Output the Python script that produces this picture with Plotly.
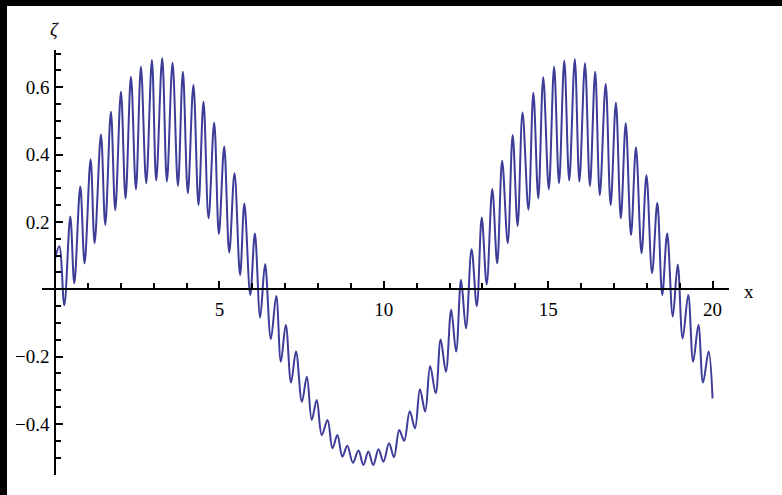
import plotly.graph_objects as go

# ---- data (local extrema of the curve) ----
x_vals = [0.00, 0.13, 0.283, 0.465, 0.587, 0.769, 0.90, 1.083, 1.205, 1.398, 1.529, 1.70, 1.833,
          2.006, 2.146, 2.31, 2.462, 2.614, 2.775, 2.948, 3.079, 3.261, 3.404, 3.575, 3.74, 3.89,
          4.04, 4.21, 4.365, 4.517, 4.67, 4.842, 4.985, 5.146, 5.30, 5.46, 5.63, 5.76, 5.94, 6.08,
          6.24, 6.39, 6.565, 6.73, 6.87, 7.02, 7.18, 7.33, 7.51, 7.66, 7.81, 7.96, 8.115, 8.29,
          8.44, 8.59, 8.74, 8.89, 9.06, 9.23, 9.38, 9.53, 9.68, 9.84, 9.99, 10.16, 10.31, 10.47,
          10.62, 10.79, 10.95, 11.10, 11.26, 11.41, 11.58, 11.73, 11.89, 12.05, 12.20, 12.35,
          12.50, 12.67, 12.83, 12.98, 13.13, 13.30, 13.45, 13.60, 13.77, 13.92, 14.07, 14.22,
          14.40, 14.55, 14.70, 14.85, 15.02, 15.18, 15.33, 15.49, 15.64, 15.81, 15.95, 16.12,
          16.27, 16.43, 16.57, 16.75, 16.90, 17.06, 17.21, 17.36, 17.52, 17.67, 17.84, 17.99,
          18.16, 18.32, 18.47, 18.62, 18.79, 18.94, 19.09, 19.26, 19.41, 19.57, 19.71, 19.88, 20.00]
zeta_vals = [0.090, 0.128, -0.047, 0.216, 0.018, 0.305, 0.077, 0.386, 0.137, 0.460, 0.191, 0.527, 0.235,
             0.587, 0.270, 0.631, 0.297, 0.661, 0.315, 0.681, 0.323, 0.686, 0.320, 0.673, 0.307, 0.646,
             0.285, 0.607, 0.250, 0.557, 0.211, 0.495, 0.164, 0.424, 0.109, 0.345, 0.042, 0.255, -0.017, 0.166,
             -0.084, 0.075, -0.148, -0.020, -0.215, -0.106, -0.277, -0.185, -0.334, -0.260, -0.388, -0.329, -0.433, -0.388,
             -0.472, -0.433, -0.497, -0.465, -0.515, -0.479, -0.522, -0.482, -0.522, -0.475, -0.512, -0.457, -0.499, -0.418,
             -0.450, -0.362, -0.413, -0.297, -0.363, -0.228, -0.309, -0.149, -0.245, -0.061, -0.185, 0.028,
             -0.116, 0.119, -0.050, 0.213, 0.015, 0.298, 0.077, 0.382, 0.137, 0.458, 0.188, 0.525,
             0.236, 0.584, 0.270, 0.630, 0.297, 0.661, 0.315, 0.679, 0.323, 0.683, 0.320, 0.671,
             0.307, 0.646, 0.280, 0.610, 0.250, 0.554, 0.211, 0.493, 0.161, 0.422, 0.107, 0.339,
             0.048, 0.257, -0.017, 0.166, -0.081, 0.074, -0.146, -0.017, -0.215, -0.106, -0.277, -0.185, -0.324]

x_major_ticks = [5, 10, 15, 20]
x_major_labels = ["5", "10", "15", "20"]
x_minor_ticks = [1, 2, 3, 4, 6, 7, 8, 9, 11, 12, 13, 14, 16, 17, 18, 19]
y_major_ticks = [-0.4, -0.2, 0.2, 0.4, 0.6]
y_major_labels = ["\u22120.4", "\u22120.2", "0.2", "0.4", "0.6"]
y_minor_ticks = [-0.5, -0.45, -0.35, -0.3, -0.25, -0.15, -0.1, -0.05, 0.05, 0.1, 0.15,
                 0.25, 0.3, 0.35, 0.45, 0.5, 0.55, 0.65, 0.7]

x_range = [-0.395, 20.50]
y_range = [-0.5515, 0.7107]

W_FIG, H_FIG = 782, 495
L, R, T, B = 42, 53, 50, 20
PW, PH = W_FIG - L - R, H_FIG - T - B

FONT = "Liberation Serif"
CURVE = "#3d3d99"

fig = go.Figure()
fig.add_trace(go.Scatter(x=x_vals, y=zeta_vals, mode="lines",
                         line=dict(color=CURVE, width=2, shape="spline", smoothing=1.0),
                         hoverinfo="skip", showlegend=False))

x_axis_pos = (0 - y_range[0]) / (y_range[1] - y_range[0])
y_axis_pos = (0 - x_range[0]) / (x_range[1] - x_range[0])

fig.update_layout(
    width=W_FIG, height=H_FIG,
    margin=dict(l=L, r=R, t=T, b=B, pad=0),
    paper_bgcolor="white", plot_bgcolor="white",
    font=dict(family=FONT, size=19, color="black"),
    xaxis=dict(range=x_range, anchor="free", position=x_axis_pos,
               showgrid=False, zeroline=False, showline=True, linecolor="black", linewidth=1.5,
               tickmode="array", tickvals=x_major_ticks, ticktext=x_major_labels,
               ticks="inside", ticklen=8, tickwidth=1.5, tickcolor="black",
               ticklabelstandoff=3,
               minor=dict(tickmode="array", tickvals=x_minor_ticks, ticks="inside",
                          ticklen=6, tickwidth=1.5, tickcolor="black"),
               tickfont=dict(family=FONT, size=19), fixedrange=True),
    yaxis=dict(range=y_range, anchor="free", position=y_axis_pos,
               showgrid=False, zeroline=False, showline=True, linecolor="black", linewidth=1.5,
               tickmode="array", tickvals=y_major_ticks, ticktext=y_major_labels,
               ticks="inside", ticklen=7, tickwidth=1.5, tickcolor="black",
               ticklabelstandoff=1,
               minor=dict(tickmode="array", tickvals=y_minor_ticks, ticks="inside",
                          ticklen=5, tickwidth=1.5, tickcolor="black"),
               tickfont=dict(family=FONT, size=19), fixedrange=True),
)

# axis labels
fig.add_annotation(x=0, y=y_range[1], xref="x", yref="y", text="<i>ζ</i>", showarrow=False,
                   yshift=21, font=dict(family=FONT, size=19, color="black"))
fig.add_annotation(x=x_range[1], y=0, xref="x", yref="y", text="x", showarrow=False,
                   xanchor="left", xshift=13, yshift=-2, font=dict(family=FONT, size=19, color="black"))

# black frame strips (top and left edges of the reference image)
def px_to_paper_x(px):
    return (px - L) / PW

def px_to_paper_y(py):
    return ((H_FIG - B) - py) / PH

fig.add_shape(type="rect", xref="paper", yref="paper",
              x0=px_to_paper_x(0), x1=px_to_paper_x(W_FIG), y0=px_to_paper_y(6), y1=px_to_paper_y(0),
              fillcolor="black", line=dict(width=0), layer="above")
fig.add_shape(type="rect", xref="paper", yref="paper",
              x0=px_to_paper_x(0), x1=px_to_paper_x(7), y0=px_to_paper_y(H_FIG), y1=px_to_paper_y(0),
              fillcolor="black", line=dict(width=0), layer="above")

fig.write_html("out.html")
